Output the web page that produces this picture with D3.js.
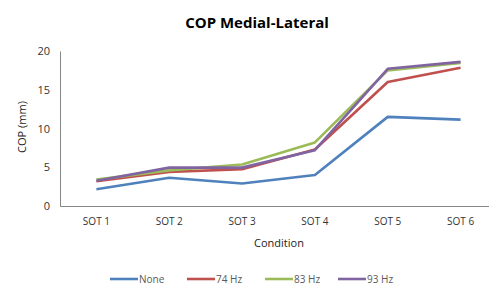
<!DOCTYPE html>
<html>
<head>
<meta charset="utf-8">
<script src="https://cdn.jsdelivr.net/npm/d3@7"></script>
<style>
  body { margin: 0; background: #fff; }
  text { font-family: "Open Sans", "Liberation Sans", sans-serif; }
</style>
</head>
<body>
<div id="chart"></div>
<script>
// data
var conditions = ["SOT 1", "SOT 2", "SOT 3", "SOT 4", "SOT 5", "SOT 6"];
var seriesNames = ["None", "74 Hz", "83 Hz", "93 Hz"];
var noneVals = [2.15, 3.65, 2.9, 4.0, 11.5, 11.15];
var hz74Vals = [3.2, 4.4, 4.75, 7.3, 16.0, 17.85];
var hz83Vals = [3.4, 4.6, 5.35, 8.2, 17.5, 18.45];
var hz93Vals = [3.25, 4.95, 4.95, 7.2, 17.7, 18.6];
var yTicks = [0, 5, 10, 15, 20];
var colors = ["#4F81BD", "#C0504D", "#9BBB59", "#8064A2"];

var series = [noneVals, hz74Vals, hz83Vals, hz93Vals].map(function(v, i) {
  return { name: seriesNames[i], values: v, color: colors[i] };
});

var svgWidth = 489;
var svgHeight = 285;

var margin = { top: 51, right: -8, bottom: 79, left: 60 };

var svg = d3.select("#chart")
  .append("svg")
  .attr("width", svgWidth)
  .attr("height", svgHeight);

var x = d3.scaleBand()
  .domain(conditions)
  .range([margin.left, svgWidth - margin.right]);

var y = d3.scaleLinear()
  .domain([0, 20])
  .range([svgHeight - margin.bottom, margin.top]);

// title
svg.append("text")
  .attr("x", 257)
  .attr("y", 28)
  .attr("text-anchor", "middle")
  .attr("font-size", "15px")
  .attr("font-weight", "bold")
  .attr("fill", "#000")
  .text("COP Medial-Lateral");

// y axis
var yAxis = svg.append("g")
  .attr("transform", "translate(" + margin.left + ",0)")
  .call(d3.axisLeft(y).tickValues(yTicks).tickSize(0).tickPadding(10));
yAxis.select(".domain").attr("stroke", "#868686");
yAxis.selectAll("text").attr("font-size", "11px").attr("fill", "#333");

// x axis
var xAxis = svg.append("g")
  .attr("transform", "translate(0," + y(0) + ")")
  .call(d3.axisBottom(x).tickSize(0).tickPadding(12));
xAxis.select(".domain").attr("stroke", "#868686");
xAxis.selectAll("text").attr("font-size", "10px").attr("fill", "#333");

// axis titles
svg.append("text")
  .attr("x", 279)
  .attr("y", 247)
  .attr("text-anchor", "middle")
  .attr("font-size", "11px")
  .attr("fill", "#222")
  .text("Condition");

svg.append("text")
  .attr("transform", "translate(26,127) rotate(-90)")
  .attr("text-anchor", "middle")
  .attr("font-size", "11px")
  .attr("fill", "#222")
  .text("COP (mm)");

// lines
var line = d3.line()
  .x(function(d, i) { return x(conditions[i]) + x.bandwidth() / 2; })
  .y(function(d) { return y(d); });

svg.selectAll(".series")
  .data(series)
  .enter().append("path")
  .attr("class", "series")
  .attr("fill", "none")
  .attr("stroke", function(s) { return s.color; })
  .attr("stroke-width", 2.6)
  .attr("stroke-linejoin", "round")
  .attr("d", function(s) { return line(s.values); });

// legend
var legendX = [110, 187, 265, 338];
var legend = svg.selectAll(".legend")
  .data(series)
  .enter().append("g")
  .attr("class", "legend")
  .attr("transform", function(s, i) { return "translate(" + legendX[i] + ",279)"; });

legend.append("line")
  .attr("x1", 0).attr("x2", 28)
  .attr("stroke", function(s) { return s.color; })
  .attr("stroke-width", 2.6);

legend.append("text")
  .attr("x", 29)
  .attr("y", 0)
  .attr("dy", "0.35em")
  .attr("font-size", "10px")
  .attr("fill", "#595959")
  .text(function(s) { return s.name; });
</script>
</body>
</html>
